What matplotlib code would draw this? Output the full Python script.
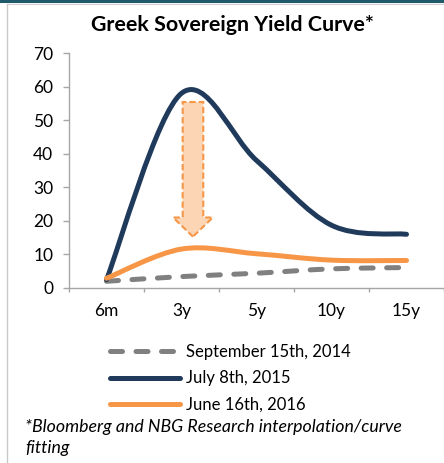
import matplotlib
matplotlib.use("Agg")
import matplotlib.pyplot as plt
from matplotlib.path import Path
from matplotlib.patches import PathPatch, FancyArrow
from matplotlib.lines import Line2D
import matplotlib.ticker as mticker

plt.rcParams.update({
    "font.family": ["Lato", "DejaVu Sans"],
    "axes.unicode_minus": False,
})

# maturities and yields (%)
tenors = ["6m", "3y", "5y", "10y", "15y"]
sep_2014 = [2.0, 3.4, 4.4, 5.7, 6.1]
jul_2015 = [2.5, 58.0, 38.0, 18.7, 16.0]
jun_2016 = [2.9, 11.6, 10.2, 8.3, 8.2]

labels = ["September 15th, 2014", "July 8th, 2015", "June 16th, 2016"]

GREY = "#808080"
NAVY = "#203A5C"
ORANGE = "#F79646"
PEACH = "#FCD5B5"
SPINE = "#A6A6A6"


def smooth_path(ys):
    """Excel-style smoothed line: cubic Bezier through each point."""
    xs = list(range(len(ys)))
    pts = list(zip(xs, ys))
    n = len(pts)
    verts = [pts[0]]
    codes = [Path.MOVETO]
    for i in range(n - 1):
        p0 = pts[max(i - 1, 0)]
        p1 = pts[i]
        p2 = pts[i + 1]
        p3 = pts[min(i + 2, n - 1)]
        c1 = (p1[0] + (p2[0] - p0[0]) / 6, p1[1] + (p2[1] - p0[1]) / 6)
        c2 = (p2[0] - (p3[0] - p1[0]) / 6, p2[1] - (p3[1] - p1[1]) / 6)
        verts += [c1, c2, p2]
        codes += [Path.CURVE4] * 3
    return Path(verts, codes)


fig = plt.figure(figsize=(4.44, 4.63), dpi=100)
ax = fig.add_axes([69 / 444, 1 - 288 / 463, 375 / 444, 235 / 463])

lw = 3.6
dashes = (0, (2.4, 2.7))
grey_patch = PathPatch(smooth_path(sep_2014), fill=False, ec=GREY, lw=lw,
                       linestyle=dashes, capstyle="round", zorder=3)
navy_patch = PathPatch(smooth_path(jul_2015), fill=False, ec=NAVY, lw=lw,
                       capstyle="round", zorder=4)
orange_patch = PathPatch(smooth_path(jun_2016), fill=False, ec=ORANGE, lw=lw,
                         capstyle="round", zorder=5)
for p in (grey_patch, navy_patch, orange_patch):
    ax.add_patch(p)

# downward arrow: 2015 peak -> 2016
arrow = FancyArrow(1.153, 55.4, 0, -40.1, width=0.275, head_width=0.53,
                   head_length=5.7, length_includes_head=True,
                   fc=PEACH, ec=ORANGE, lw=1.5, linestyle=(0, (3, 1.5)),
                   zorder=6)
ax.add_patch(arrow)

ax.set_xlim(-0.5, len(tenors) - 0.5)
ax.set_ylim(0, 70)
ax.yaxis.set_major_locator(mticker.MultipleLocator(10))
ax.xaxis.set_major_locator(mticker.FixedLocator([i - 0.5 for i in range(len(tenors) + 1)]))
ax.xaxis.set_major_formatter(mticker.NullFormatter())
ax.xaxis.set_minor_locator(mticker.FixedLocator(range(len(tenors))))
ax.xaxis.set_minor_formatter(mticker.FixedFormatter(tenors))

for s in ("top", "right"):
    ax.spines[s].set_visible(False)
for s in ("left", "bottom"):
    ax.spines[s].set_color(SPINE)
    ax.spines[s].set_linewidth(1.0)

ax.tick_params(axis="y", length=4.3, width=1.0, color=SPINE, pad=7,
               labelsize=12.5, labelcolor="black")
ax.tick_params(axis="x", which="major", length=3, width=1.0, color=SPINE)
ax.tick_params(axis="x", which="minor", length=0, pad=11, labelsize=12.5,
               labelcolor="black")

fig.text(0.524, 1 - 25 / 463, "Greek Sovereign Yield Curve*", ha="center",
         va="center", fontsize=15.4, fontweight="bold")

handles = [
    Line2D([], [], color=GREY, lw=lw, linestyle=dashes, dash_capstyle="round"),
    Line2D([], [], color=NAVY, lw=lw, solid_capstyle="round"),
    Line2D([], [], color=ORANGE, lw=lw, solid_capstyle="round"),
]
fig.legend(handles, labels, loc="upper left",
           bbox_to_anchor=(110 / 444, 1 - 344 / 463), frameon=False,
           fontsize=12, handlelength=4.2, handletextpad=0.36,
           labelspacing=0.62, borderpad=0, borderaxespad=0)

fig.text(25 / 444, 1 - 427 / 463,
         "*Bloomberg and NBG Research interpolation/curve", ha="left",
         va="center", fontsize=12.8, style="italic")
fig.text(25 / 444, 1 - 448 / 463, "fitting", ha="left", va="center",
         fontsize=12.8, style="italic")

# outer frame
fig.add_artist(Line2D([0, 1], [1 - 1.2 / 463] * 2, color="#1F5A6B", lw=2.2,
                      transform=fig.transFigure))
fig.add_artist(Line2D([6.5 / 444, 1], [1 - 3.8 / 463] * 2, color="#D0D0D0",
                      lw=0.8, transform=fig.transFigure))
fig.add_artist(Line2D([6.5 / 444] * 2, [0, 1 - 3.8 / 463], color="#C8C8C8",
                      lw=1.0, transform=fig.transFigure))

fig.savefig("out.png", dpi=100)
